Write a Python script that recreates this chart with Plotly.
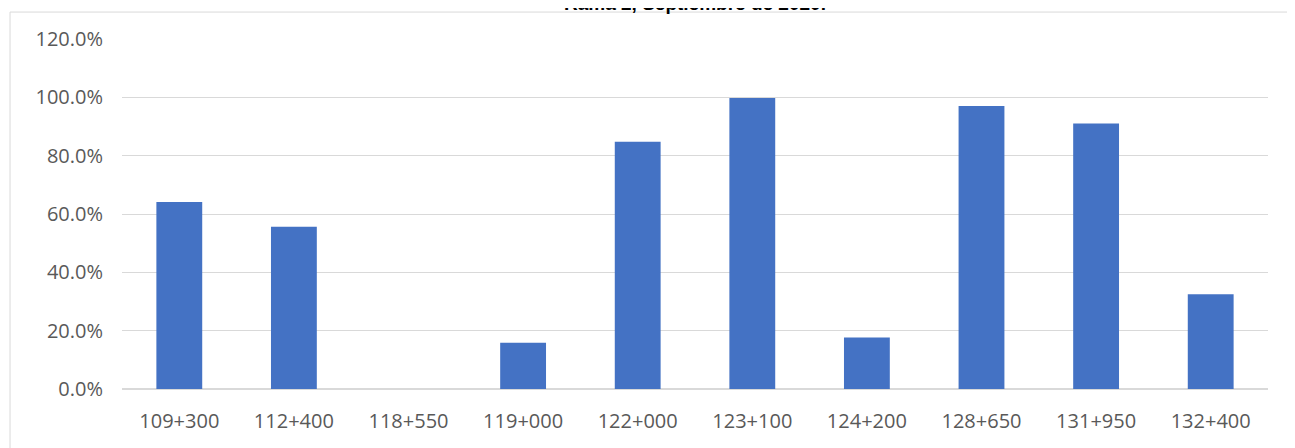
import plotly.graph_objects as go

# datos
estaciones = ['109+300', '112+400', '118+550', '119+000', '122+000',
              '123+100', '124+200', '128+650', '131+950', '132+400']
porcentaje = [0.641, 0.556, 0.0, 0.159, 0.848, 0.998, 0.177, 0.970, 0.910, 0.325]
ticks_y = [0, 0.2, 0.4, 0.6, 0.8, 1.0, 1.2]
titulo = 'Rama 2, Septiembre de 2020.'

fig = go.Figure(go.Bar(x=estaciones, y=porcentaje, marker_color='#4472C4',
                       marker_line_width=0))

# la página html añade 8px de margen, se compensa aquí
fig.update_layout(
    width=1287, height=440,
    margin=dict(l=114, r=27, t=31, b=59),
    paper_bgcolor='white', plot_bgcolor='white',
    bargap=0.6,
    showlegend=False,
    font=dict(family='Open Sans, Liberation Sans', size=20, color='#595959'),
)
# título cortado arriba, como en el original
fig.add_annotation(text='<b>' + titulo + '</b>', xref='paper', yref='paper',
                   x=0.5, y=1.067, xanchor='center', yanchor='bottom',
                   showarrow=False,
                   font=dict(family='Liberation Sans, Arial', size=19, color='black'))
fig.update_yaxes(range=[0, 1.2], tickvals=ticks_y, tickformat='.1%',
                 showgrid=True, gridcolor='#d9d9d9', gridwidth=1,
                 zeroline=True, zerolinecolor='#d9d9d9', ticks='', ticklen=0,
                 showline=False, ticklabelstandoff=18)
fig.update_xaxes(showgrid=False, ticks='', showline=False, ticklabelstandoff=18)

# marco del área del gráfico
fig.add_shape(type='rect', xref='paper', yref='paper',
              x0=-0.0977, x1=1.0175, y0=-0.3, y1=1.077,
              line=dict(color='#d9d9d9', width=1), layer='below')

fig.write_html('out.html')
